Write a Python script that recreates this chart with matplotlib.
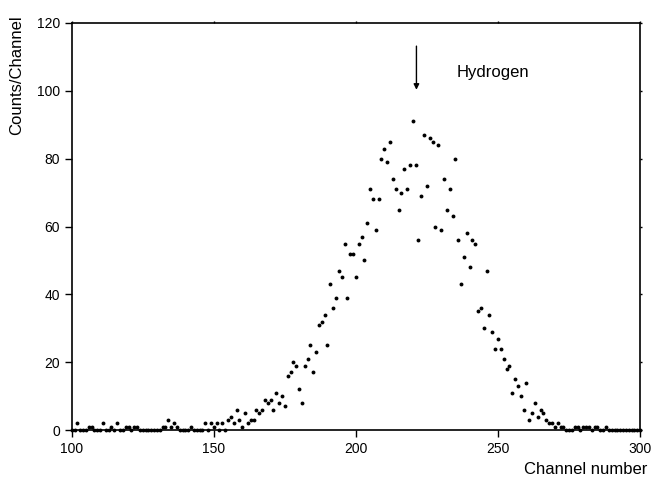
import numpy as np
import matplotlib
matplotlib.use("Agg")
from matplotlib import pyplot as plt

plt.rcParams['font.family'] = ['Liberation Sans', 'DejaVu Sans']

# counts per channel, channel 100 .. 300
channels = np.arange(100, 301)
nonzero = {
    102: 2, 106: 1, 107: 1, 111: 2, 114: 1, 116: 2, 119: 1, 120: 1,
    122: 1, 123: 1, 132: 1, 133: 1, 134: 3, 135: 1, 136: 2, 137: 1,
    142: 1, 147: 2, 149: 2, 150: 1, 151: 2, 153: 2, 155: 3, 156: 4,
    157: 2, 158: 6, 159: 3, 160: 1, 161: 5, 162: 2, 163: 3, 164: 3,
    165: 6, 166: 5, 167: 6, 168: 9, 169: 8, 170: 9, 171: 6, 172: 11,
    173: 8, 174: 10, 175: 7, 176: 16, 177: 17, 178: 20, 179: 19, 180: 12,
    181: 8, 182: 19, 183: 21, 184: 25, 185: 17, 186: 23, 187: 31, 188: 32,
    189: 34, 190: 25, 191: 43, 192: 36, 193: 39, 194: 47, 195: 45, 196: 55,
    197: 39, 198: 52, 199: 52, 200: 45, 201: 55, 202: 57, 203: 50, 204: 61,
    205: 71, 206: 68, 207: 59, 208: 68, 209: 80, 210: 83, 211: 79, 212: 85,
    213: 74, 214: 71, 215: 65, 216: 70, 217: 77, 218: 71, 219: 78, 220: 91,
    221: 78, 222: 56, 223: 69, 224: 87, 225: 72, 226: 86, 227: 85, 228: 60,
    229: 84, 230: 59, 231: 74, 232: 65, 233: 71, 234: 63, 235: 80, 236: 56,
    237: 43, 238: 51, 239: 58, 240: 48, 241: 56, 242: 55, 243: 35, 244: 36,
    245: 30, 246: 47, 247: 34, 248: 29, 249: 24, 250: 27, 251: 24, 252: 21,
    253: 18, 254: 19, 255: 11, 256: 15, 257: 13, 258: 10, 259: 6, 260: 14,
    261: 3, 262: 5, 263: 8, 264: 4, 265: 6, 266: 5, 267: 3, 268: 2,
    269: 2, 270: 1, 271: 2, 272: 1, 273: 1, 277: 1, 278: 1, 280: 1,
    281: 1, 282: 1, 284: 1, 285: 1, 288: 1,
}
counts = np.array([nonzero.get(c, 0) for c in channels])

x_ticks = [100, 150, 200, 250, 300]
y_ticks = [0, 20, 40, 60, 80, 100, 120]
peak_channel = 221.3

fig = plt.figure(figsize=(6.64, 4.79), dpi=100)
ax = fig.add_axes([0.108, 0.102, 0.856, 0.85])

ax.plot(channels, counts, 'o', color='black', markersize=2.8,
        markeredgewidth=0, clip_on=False, zorder=3)

ax.set_xlim(100, 300)
ax.set_ylim(0, 120)
ax.set_xticks(x_ticks)
ax.set_yticks(y_ticks)
ax.tick_params(axis='both', direction='out', length=5, width=1, labelsize=10)
ax.tick_params(top=True, right=True)
for t in ax.xaxis.get_ticklines()[1::2] + ax.yaxis.get_ticklines()[1::2]:
    t.set_markersize(1.5)
for s in ax.spines.values():
    s.set_linewidth(1.2)

ax.annotate('', xy=(peak_channel, 99.5), xytext=(peak_channel, 114),
            arrowprops=dict(arrowstyle='-|>', color='black', lw=1,
                            mutation_scale=8))
ax.text(235.5, 105.5, 'Hydrogen', fontsize=12, va='center', ha='left')

fig.text(647 / 664, 1 - 470 / 479, 'Channel number', fontsize=12,
         ha='right', va='center')
fig.text(17 / 664, 1 - 15 / 479, 'Counts/Channel', fontsize=12,
         rotation=90, ha='center', va='top')

fig.savefig('out.png', dpi=100)
